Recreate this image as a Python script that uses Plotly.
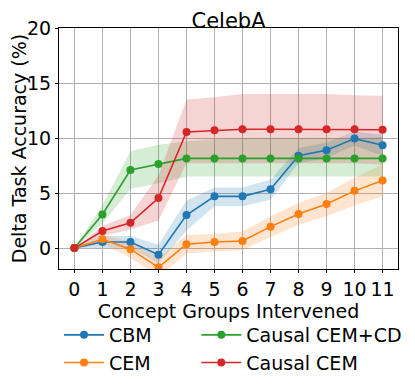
import plotly.graph_objects as go

# values
groups = list(range(12))

cbm = [0, 0.55, 0.55, -0.6, 3.0, 4.7, 4.7, 5.35, 8.4, 8.9, 9.95, 9.35]
cbm_lo = [0, 0.0, 0.0, -1.4, 1.6, 3.8, 3.8, 4.4, 7.7, 8.2, 9.3, 8.4]
cbm_hi = [0, 1.1, 1.1, 0.3, 4.3, 5.5, 5.5, 6.2, 9.1, 9.6, 10.6, 10.3]

cem = [0, 0.8, -0.1, -1.75, 0.35, 0.55, 0.65, 1.95, 3.1, 4.0, 5.2, 6.15]
cem_lo = [0, 0.4, -0.9, -2.6, -0.5, -0.3, -0.2, 1.0, 2.1, 2.9, 3.9, 4.7]
cem_hi = [0, 1.2, 0.6, -0.9, 1.2, 1.3, 1.5, 2.9, 4.1, 5.0, 6.4, 7.6]

ccem_cd = [0, 3.05, 7.1, 7.65, 8.15, 8.15, 8.15, 8.15, 8.15, 8.15, 8.15, 8.15]
ccem_cd_lo = [0, 2.2, 5.4, 5.9, 6.5, 6.5, 6.5, 6.5, 6.5, 6.5, 6.5, 6.5]
ccem_cd_hi = [0, 3.9, 8.8, 9.4, 9.7, 9.9, 10.0, 10.0, 10.0, 10.0, 10.0, 10.1]

ccem = [0, 1.55, 2.3, 4.55, 10.55, 10.7, 10.8, 10.8, 10.8, 10.8, 10.8, 10.75]
ccem_lo = [0, 1.1, 1.7, 2.5, 7.7, 7.7, 7.7, 7.7, 7.7, 7.7, 7.7, 7.6]
ccem_hi = [0, 2.0, 3.0, 6.6, 13.5, 13.7, 14.0, 14.0, 14.0, 14.0, 13.9, 13.85]

# name, values, lower, upper, colour, band colour, legend column
series = [
    ("CBM", cbm, cbm_lo, cbm_hi, "#1f77b4", "rgba(31,119,180,0.2)", "legend"),
    ("CEM", cem, cem_lo, cem_hi, "#ff7f0e", "rgba(255,127,14,0.2)", "legend"),
    ("Causal CEM+CD", ccem_cd, ccem_cd_lo, ccem_cd_hi, "#2ca02c", "rgba(44,160,44,0.2)", "legend2"),
    ("Causal CEM", ccem, ccem_lo, ccem_hi, "#d62728", "rgba(214,39,40,0.2)", "legend2"),
]

fig = go.Figure()

# shaded bands first
for name, y, lo, hi, col, fill, leg in series:
    fig.add_trace(go.Scatter(x=groups, y=lo, mode="lines", line=dict(width=0),
                             showlegend=False, hoverinfo="skip"))
    fig.add_trace(go.Scatter(x=groups, y=hi, mode="lines", line=dict(width=0),
                             fill="tonexty", fillcolor=fill,
                             showlegend=False, hoverinfo="skip"))

for name, y, lo, hi, col, fill, leg in series:
    fig.add_trace(go.Scatter(x=groups, y=y, mode="lines+markers", name=name,
                             legend=leg, legendgroup=name,
                             line=dict(color=col, width=1.6),
                             marker=dict(color=col, size=8)))

axis_common = dict(
    showgrid=True, gridcolor="#b0b0b0", gridwidth=1,
    showline=True, linecolor="black", linewidth=1, mirror=True,
    ticks="outside", ticklen=3, tickcolor="black",
    zeroline=False, tickfont=dict(size=19, color="black"),
    automargin=False,
)

fig.update_xaxes(range=[-0.55, 11.55], tickvals=groups,
                 title=dict(text="Concept Groups Intervened", font=dict(size=19, color="black"), standoff=1),
                 **axis_common)
fig.update_yaxes(range=[-1.9, 20], tickvals=[0, 5, 10, 15, 20],
                 title=dict(text="Delta Task Accuracy (%)", font=dict(size=19, color="black"), standoff=3),
                 **axis_common)

leg_common = dict(orientation="v", y=-0.195, xanchor="left", yanchor="top",
                  font=dict(size=19), traceorder="normal", tracegroupgap=3,
                  itemwidth=40, bgcolor="rgba(0,0,0,0)")

# page body has an 8px margin, so the figure is a bit smaller than the window
fig.update_layout(
    width=407, height=376,
    margin=dict(l=51, r=17, t=20, b=115, autoexpand=False),
    plot_bgcolor="white", paper_bgcolor="white",
    font=dict(family="DejaVu Sans", color="black"),
    title=dict(text="CelebA", font=dict(size=21, color="black"), xref="paper", x=0.5,
               xanchor="center", yref="container", y=0.985, yanchor="top"),
    legend=dict(x=0.0, **leg_common),
    legend2=dict(x=0.405, **leg_common),
)

fig.write_html("out.html")
